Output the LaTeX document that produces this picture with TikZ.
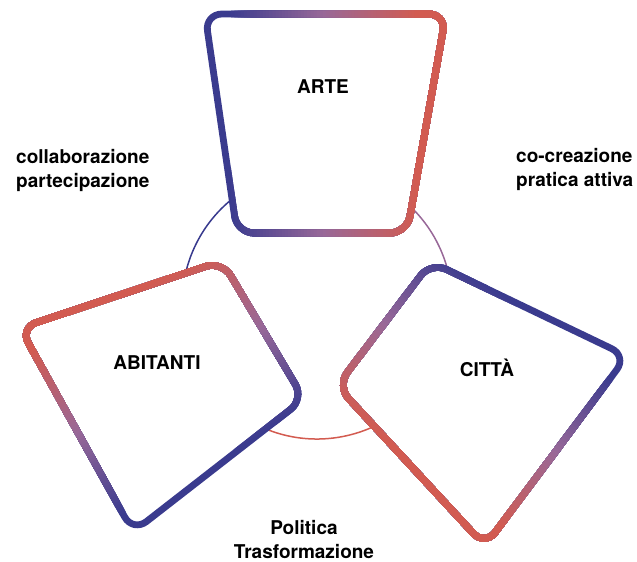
\documentclass[tikz,border=0pt]{standalone}
\usepackage{fontspec}
\setmainfont{TeX Gyre Heros}
\definecolor{blueC}{RGB}{56,58,142}
\definecolor{midC}{RGB}{152,104,152}
\definecolor{redC}{RGB}{211,91,80}
\tikzset{
  lbl/.style={font=\bfseries\fontsize{19}{24}\selectfont, inner sep=0pt, text=black},
  shapefill/.style={fill=white, rounded corners=17pt},
  ring/.style={line width=6.8pt, rounded corners=17pt, line join=round},
  arcline/.style={line width=1.5pt},
}
\newcommand{\gradring}[3]{%
  \foreach \gi in {0,...,59}{%
    \pgfmathsetmacro{\gT}{(\gi+0.5)/60}%
    \pgfmathsetmacro{\gS}{\gi==0 ? -400 : -95+190*\gi/60}%
    \ifdim\gT pt<0.5pt
      \pgfmathsetmacro{\gP}{200*\gT}\colorlet{gc}{midC!\gP!blueC}%
    \else
      \pgfmathsetmacro{\gP}{200*\gT-100}\colorlet{gc}{redC!\gP!midC}%
    \fi
    \begin{scope}
      \clip[shift={#1},rotate=#2] (\gS,-400) rectangle (400,400);
      \draw[ring, gc] #3;
    \end{scope}
  }%
}
\begin{document}
\begin{tikzpicture}[x=1pt,y=-1pt]
\useasboundingbox (0,0) rectangle (637,562);
% central circle
\coordinate (O) at (317,304);
\draw[arcline, blueC] (O) ++(150:135) arc[start angle=150, end angle=270, radius=135];
\draw[arcline, midC] (O) ++(270:135) arc[start angle=270, end angle=390, radius=135];
\draw[arcline, redC] (O) ++(30:135) arc[start angle=30, end angle=150, radius=135];
% ARTE
\coordinate (A1) at (205,14);
\coordinate (A2) at (446,14);
\coordinate (A3) at (407,233);
\coordinate (A4) at (237,233);
\fill[shapefill] (A1) -- (A2) -- (A3) -- (A4) -- cycle;
\gradring{(323,123)}{0}{(A1) -- (A2) -- (A3) -- (A4) -- cycle}
% ABITANTI
\coordinate (B1) at (20,328);
\coordinate (B2) at (222,261);
\coordinate (B3) at (304,399);
\coordinate (B4) at (133,532);
\fill[shapefill] (B1) -- (B2) -- (B3) -- (B4) -- cycle;
\gradring{(170,380)}{120}{(B1) -- (B2) -- (B3) -- (B4) -- cycle}
% CITTA
\coordinate (C1) at (431,262);
\coordinate (C2) at (627,356);
\coordinate (C3) at (485,546);
\coordinate (C4) at (337,386);
\fill[shapefill] (C1) -- (C2) -- (C3) -- (C4) -- cycle;
\gradring{(470,387)}{233}{(C1) -- (C2) -- (C3) -- (C4) -- cycle}
% labels
\node[lbl, anchor=base] (tarte) at (323,93) {ARTE};
\node[lbl, anchor=base] (tabit) at (157,369) {ABITANTI};
\node[lbl, anchor=base] (tcitta) at (487,376) {CITTÀ};
\node[lbl, align=left, anchor=north west] (tcollab) at (16,149) {collaborazione\\partecipazione};
\node[lbl, align=left, anchor=north west] (tcocrea) at (516,148) {co-creazione\\pratica attiva};
\node[lbl, align=center, anchor=north] (tpol) at (304,520) {Politica\\Trasformazione};
\end{tikzpicture}
\end{document}
